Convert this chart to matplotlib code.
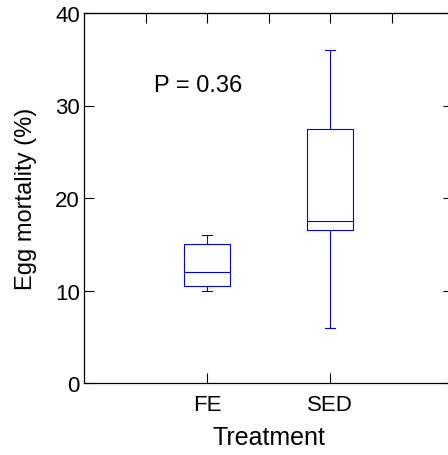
import numpy as np
import matplotlib
matplotlib.use('Agg')
import matplotlib.pyplot as plt

plt.rcParams['font.family'] = ['Liberation Sans', 'DejaVu Sans']

# Dados
tratamentos = ['FE', 'SED']
minimo = [10.0, 6.0]
q1 = [10.5, 16.5]
mediana = [12.0, 17.5]
q3 = [15.0, 27.5]
maximo = [16.0, 36.0]
texto_p = 'P = 0.36'

stats = []
for i, nome in enumerate(tratamentos):
    stats.append({'label': nome, 'whislo': minimo[i], 'q1': q1[i], 'med': mediana[i],
                  'q3': q3[i], 'whishi': maximo[i], 'fliers': []})

fig = plt.figure(figsize=(4.48, 4.56), dpi=100)
ax = fig.add_axes([84 / 448, 72 / 456, 369 / 448, 370 / 456])

azul = '#0000ff'
lw = 0.8
ax.bxp(stats, positions=[1, 2], widths=0.38, capwidths=0.08, showfliers=False,
       boxprops=dict(color=azul, linewidth=lw),
       medianprops=dict(color=azul, linewidth=lw),
       whiskerprops=dict(color=azul, linewidth=lw),
       capprops=dict(color=azul, linewidth=lw))

ax.set_xlim(0, 3)
ax.set_ylim(0, 40)
ax.set_yticks([0, 10, 20, 30, 40])
ax.set_xticks([1, 2])
ax.set_xticklabels(tratamentos)

ax.tick_params(axis='y', direction='in', length=7.5, width=0.8, labelsize=16, pad=3,
               left=True, right=True)
ax.tick_params(axis='x', direction='in', length=7.5, width=0.8, labelsize=16, pad=8)
for s in ax.spines.values():
    s.set_linewidth(0.9)

# ticks de cima a cada 0.5
topo = ax.secondary_xaxis('top')
topo.set_xticks(np.arange(0.5, 3.01, 0.5))
topo.tick_params(direction='in', length=7.5, width=0.8, labeltop=False)

ax.set_xlabel('Treatment', fontsize=18, labelpad=7)
ax.set_ylabel('Egg mortality (%)', fontsize=17, labelpad=13)

ax.text(0.569, 31.57, texto_p, fontsize=17, va='baseline', ha='left')

fig.savefig('out.png', dpi=100)
